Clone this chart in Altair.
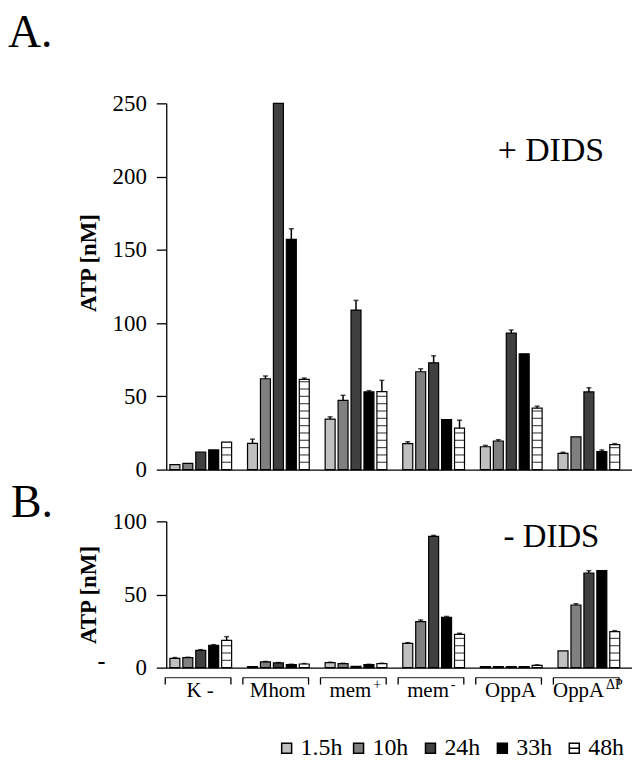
import altair as alt
import pandas as pd

# ---------------- data ----------------
groups = ["K -", "Mhom", "mem+", "mem-", "OppA", "OppA dP"]
labels_main = ["K -", "Mhom", "mem", "mem", "OppA", "OppA"]
labels_sup = ["", "", "+", "-", "", "ΔP"]
times = ["1.5h", "10h", "24h", "33h", "48h"]
colors = ["#c0c0c0", "#808080", "#404040", "#000000", "#ffffff"]
legend_shapes = ["square", "square", "square", "square", "M-1,-1H1V1H-1ZM-1,0H1"]

# Panel A (+ DIDS): values per group, order = times
a_kneg = [3.4, 4.3, 12.0, 13.4, 18.8]
a_mhom = [17.9, 62.0, 250.0, 157.2, 61.6]
a_memp = [34.4, 47.3, 108.9, 53.0, 53.2]
a_memm = [17.7, 66.8, 72.9, 34.2, 28.3]
a_oppa = [15.6, 19.5, 93.1, 79.0, 41.9]
a_oppadp = [11.1, 22.4, 53.0, 12.2, 17.0]
a_err_kneg = [0.0, 0.0, 0.0, 0.0, 0.0]
a_err_mhom = [2.9, 1.9, 0.0, 7.2, 0.9]
a_err_memp = [1.6, 3.4, 6.6, 0.9, 7.7]
a_err_memm = [1.3, 2.0, 4.8, 0.0, 5.4]
a_err_oppa = [0.9, 0.9, 2.2, 0.0, 1.4]
a_err_oppadp = [0.7, 0.0, 2.9, 1.2, 0.7]

# Panel B (- DIDS)
b_kneg = [6.4, 6.8, 11.8, 15.3, 18.7]
b_mhom = [0.7, 3.9, 3.2, 2.0, 2.5]
b_memp = [3.4, 2.7, 0.9, 2.0, 2.7]
b_memm = [16.6, 31.4, 89.7, 34.4, 22.8]
b_oppa = [0.7, 0.7, 0.7, 0.7, 1.6]
b_oppadp = [11.4, 42.8, 64.7, 66.3, 24.6]
b_err_kneg = [0.5, 0.3, 0.5, 0.4, 2.5]
b_err_mhom = [0.0, 0.3, 0.3, 0.3, 0.3]
b_err_memp = [0.3, 0.3, 0.0, 0.3, 0.3]
b_err_memm = [0.5, 1.2, 0.7, 0.6, 0.7]
b_err_oppa = [0.0, 0.0, 0.0, 0.0, 0.3]
b_err_oppadp = [0.0, 0.9, 1.6, 0.0, 0.7]

a_ticks = [0, 50, 100, 150, 200, 250]
b_ticks = [0, 50, 100]


def build(vals, errs):
    rows = []
    for g, v, e in zip(groups, vals, errs):
        for t, vv, ee in zip(times, v, e):
            rows.append({"group": g, "time": t, "value": vv, "err": ee, "top": vv + ee})
    return pd.DataFrame(rows)


df_a = build([a_kneg, a_mhom, a_memp, a_memm, a_oppa, a_oppadp],
             [a_err_kneg, a_err_mhom, a_err_memp, a_err_memm, a_err_oppa, a_err_oppadp])
df_b = build([b_kneg, b_mhom, b_memp, b_memm, b_oppa, b_oppadp],
             [b_err_kneg, b_err_mhom, b_err_memp, b_err_memm, b_err_oppa, b_err_oppadp])

FONT = "Liberation Serif"
W = 468
STRIPE = 5


def panel(df, ymax, ticks, height, title_y=None):
    x = alt.X("group:N", sort=groups, title=None,
              scale=alt.Scale(domain=groups, paddingInner=0, paddingOuter=0),
              axis=alt.Axis(labels=False, ticks=False, domainColor="black", domainWidth=1.3))
    xo = alt.XOffset("time:N", sort=times,
                     scale=alt.Scale(domain=times, paddingInner=0.23, paddingOuter=0.615, align=0.23))
    axis_kw = dict(values=ticks, tickSize=10, labelPadding=10, domainColor="black", tickColor="black",
                   labelColor="black", titleColor="black", labelFont=FONT, labelFontSize=23,
                   titleFont=FONT, titleFontSize=23, titleFontWeight="bold", titlePadding=12,
                   domainWidth=1.3, tickWidth=1.3, grid=False)
    if title_y is not None:
        axis_kw["titleY"] = title_y
    yscale = alt.Scale(domain=[0, ymax], nice=False, zero=True)

    def Y(field):
        return alt.Y(field, title="ATP [nM]", scale=yscale, axis=alt.Axis(**axis_kw))

    bars = alt.Chart(df).mark_bar(stroke="black", strokeWidth=1.2).encode(
        x=x, xOffset=xo, y=Y("value:Q"),
        fill=alt.Fill("time:N", scale=alt.Scale(domain=times, range=colors), legend=None),
    )
    stripes = (
        alt.Chart(df)
        .transform_filter(alt.datum.time == "48h")
        .transform_calculate(s=f"sequence({STRIPE}, datum.value - 1, {STRIPE})")
        .transform_flatten(["s"])
        .mark_tick(orient="horizontal", color="black", thickness=1.2, size=10)
        .encode(x=x, xOffset=xo, y=Y("s:Q"))
    )
    errs = alt.Chart(df).transform_filter(alt.datum.err > 0)
    err_rule = errs.mark_rule(color="black", strokeWidth=1.5).encode(
        x=x, xOffset=xo, y=Y("value:Q"), y2="top:Q")
    err_cap = errs.mark_tick(orient="horizontal", color="black", thickness=1.5, size=5).encode(
        x=x, xOffset=xo, y=Y("top:Q"))
    return x, [bars, stripes, err_rule, err_cap]


# ---------- Panel A ----------
xa, layers_a = panel(df_a, 250, a_ticks, 368, title_y=160)
tA = alt.Chart(pd.DataFrame({"t": ["A."]})).mark_text(
    align="left", baseline="alphabetic", font=FONT, fontSize=46, color="black"
).encode(text="t:N", x=alt.value(-159), y=alt.value(-57))
dA = alt.Chart(pd.DataFrame({"t": ["+ DIDS"]})).mark_text(
    align="left", baseline="alphabetic", font=FONT, fontSize=34, color="black"
).encode(text="t:N", x=alt.value(333), y=alt.value(58))
chart_a = alt.layer(*layers_a, tA, dA).properties(width=W, height=368)

# ---------- Panel B ----------
xb, layers_b = panel(df_b, 100, b_ticks, 147)
lab = pd.DataFrame({"group": groups, "main": labels_main, "sup": labels_sup})
xg = alt.X("group:N", sort=groups, title=None)
br_top = alt.Chart(lab).mark_tick(orient="horizontal", color="black", thickness=1.3, size=66,
                                  xOffset=-7).encode(x=xg, y=alt.value(157))
br_l = alt.Chart(lab).mark_rule(color="black", strokeWidth=1.3, xOffset=-40).encode(
    x=xg, y=alt.value(157), y2=alt.value(164))
br_r = alt.Chart(lab).mark_rule(color="black", strokeWidth=1.3, xOffset=26).encode(
    x=xg, y=alt.value(157), y2=alt.value(164))
lab_plain = alt.Chart(lab).transform_filter(alt.datum.sup == "").mark_text(
    align="center", baseline="alphabetic", font=FONT, fontSize=21, color="black", xOffset=-5
).encode(x=xg, y=alt.value(177), text="main:N")
lab_main = alt.Chart(lab).transform_filter(alt.datum.sup != "").mark_text(
    align="right", baseline="alphabetic", font=FONT, fontSize=21, color="black", xOffset=11
).encode(x=xg, y=alt.value(177), text="main:N")
lab_sup = alt.Chart(lab).transform_filter(alt.datum.sup != "").mark_text(
    align="left", baseline="alphabetic", font=FONT, fontSize=14, color="black", xOffset=13
).encode(x=xg, y=alt.value(168), text="sup:N")
tB = alt.Chart(pd.DataFrame({"t": ["B."]})).mark_text(
    align="left", baseline="alphabetic", font=FONT, fontSize=46, color="black"
).encode(text="t:N", x=alt.value(-156), y=alt.value(-4))
dB = alt.Chart(pd.DataFrame({"t": ["- DIDS"]})).mark_text(
    align="left", baseline="alphabetic", font=FONT, fontSize=33, color="black"
).encode(text="t:N", x=alt.value(339), y=alt.value(26))
dash = alt.Chart(pd.DataFrame({"t": ["-"]})).mark_text(
    align="center", baseline="alphabetic", font=FONT, fontSize=24, fontWeight="bold", color="black"
).encode(text="t:N", x=alt.value(-65), y=alt.value(148))
chart_b = alt.layer(*layers_b, br_top, br_l, br_r, lab_plain, lab_main, lab_sup, tB, dB, dash).properties(
    width=W, height=147)

# ---------- Legend ----------
leg = pd.DataFrame({"time": times})
lx = alt.X("time:N", sort=times,
           scale=alt.Scale(type="point", domain=times, range=[121, 410], padding=0), axis=None)
leg_pts = alt.Chart(leg).mark_point(filled=True, stroke="black", strokeWidth=1.5, size=100, opacity=1).encode(
    x=lx, y=alt.value(20),
    fill=alt.Fill("time:N", scale=alt.Scale(domain=times, range=colors), legend=None),
    shape=alt.Shape("time:N", scale=alt.Scale(domain=times, range=legend_shapes), legend=None),
)
leg_txt = alt.Chart(leg).mark_text(align="left", baseline="middle", dx=14, font=FONT, fontSize=24,
                                   color="black").encode(x=lx, y=alt.value(20), text="time:N")
chart_leg = alt.layer(leg_pts, leg_txt).properties(width=W, height=30)

top = alt.vconcat(chart_a, chart_b, spacing=-1)
chart = (
    alt.vconcat(top, chart_leg, spacing=27)
    .properties(padding=0, background="white")
    .configure(font=FONT)
    .configure_view(stroke=None)
)

chart.save("out.html", embed_options={"renderer": "svg", "actions": False})
